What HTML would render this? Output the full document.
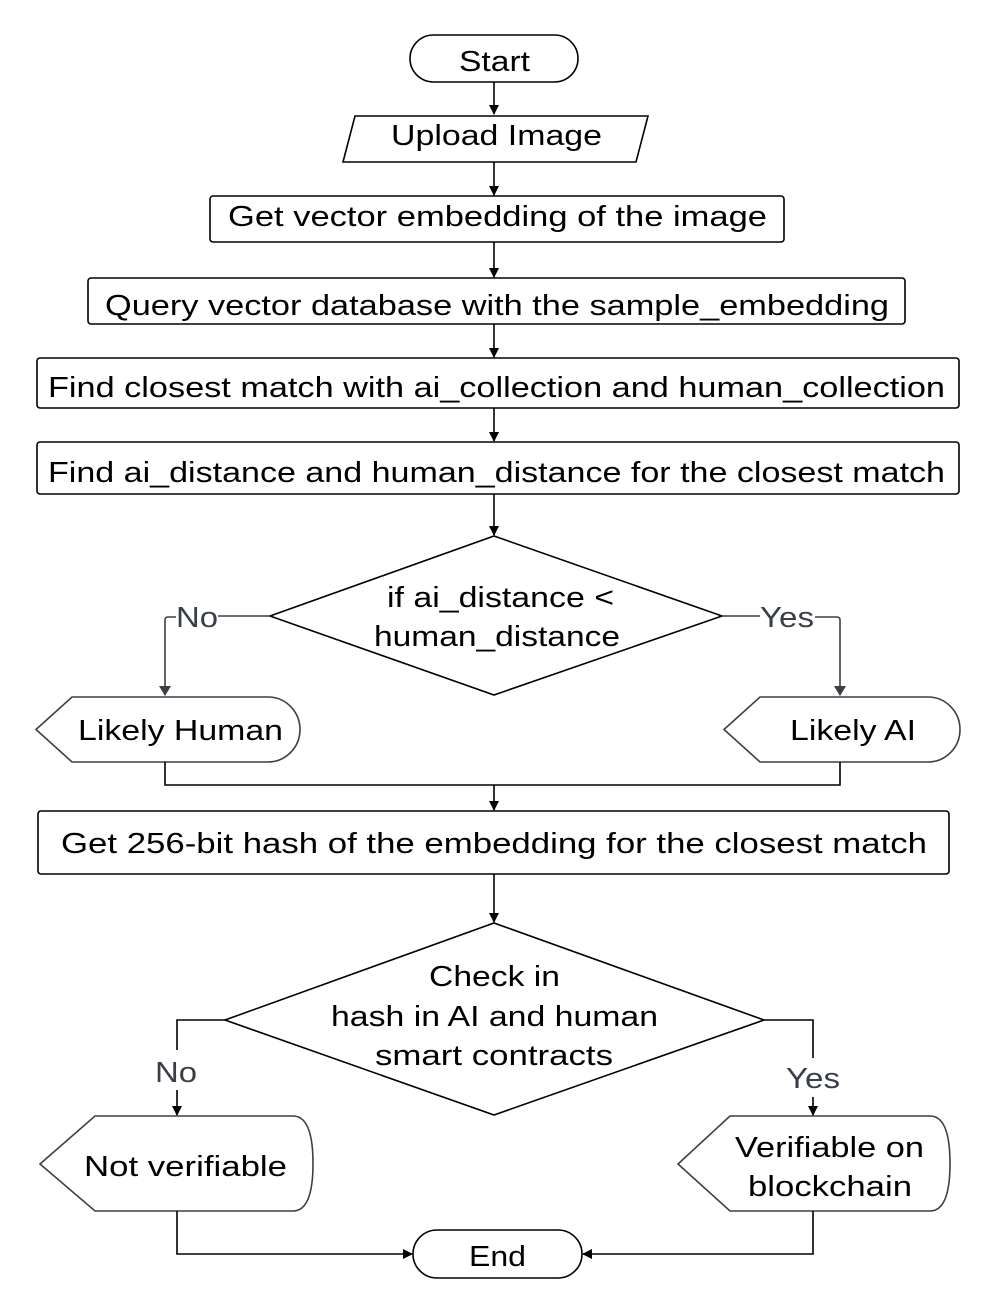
<!DOCTYPE html>
<html><head><meta charset="utf-8"><style>body{margin:0;background:#fff}svg{display:block}</style></head>
<body>
<svg width="996" height="1305" viewBox="0 0 996 1305" xmlns="http://www.w3.org/2000/svg" font-family="Liberation Sans, sans-serif" font-size="29" text-anchor="middle">
<defs><marker id="a" markerWidth="10" markerHeight="10" refX="9" refY="5" orient="auto" markerUnits="userSpaceOnUse"><path d="M0,0 L10,5 L0,10 z" fill="#000"/></marker>
<marker id="g" markerWidth="10" markerHeight="12" refX="9" refY="6" orient="auto" markerUnits="userSpaceOnUse"><path d="M0,0 L10,6 L0,12 z" fill="#3a3f47"/></marker></defs>
<g fill="none" stroke="#000" stroke-width="1.6">
<rect x="410" y="35" width="168" height="47" rx="23.5"/>
<polygon points="355,116 648,116 636,162 343,162"/>
<rect x="210" y="196" width="574" height="46" rx="3"/>
<rect x="88" y="278" width="817" height="46" rx="3"/>
<rect x="37" y="358" width="922" height="50" rx="3"/>
<rect x="37" y="442" width="922" height="52" rx="3"/>
<polygon points="494,536 722,616 494,695 270,616"/>
<rect x="38" y="811" width="911" height="63" rx="3"/>
<polygon points="494,923 764,1020 494,1115 225,1020"/>
<rect x="413" y="1230" width="169" height="48" rx="24"/>
</g>
<g fill="none" stroke="#3a3f47" stroke-width="1.6">
<path d="M72,697 H268 A32,32.5 0 0 1 268,762 H72 L36,729.5 Z"/>
<path d="M760,697 H928 A32,32.5 0 0 1 928,762 H760 L724,729.5 Z"/>
<path d="M95,1116 H293 Q313,1116 313,1163.5 Q313,1211 293,1211 H95 L40,1164 Z"/>
<path d="M730,1116 H930 Q950,1116 950,1163.5 Q950,1211 930,1211 H730 L678,1164 Z"/>
<path d="M270,616 H218 M176,617 H168 Q165,617 165,620 V695" marker-end="url(#g)"/>
<path d="M722,616 H760 M815,617 H837 Q840,617 840,620 V695" marker-end="url(#g)"/>
</g>
<g fill="none" stroke="#000" stroke-width="1.6">
<path d="M494,82 V114" marker-end="url(#a)"/>
<path d="M494,162 V195" marker-end="url(#a)"/>
<path d="M494,242 V277" marker-end="url(#a)"/>
<path d="M494,324 V357" marker-end="url(#a)"/>
<path d="M494,408 V441" marker-end="url(#a)"/>
<path d="M494,494 V535" marker-end="url(#a)"/>
<path d="M165,762 V785 H494 M840,762 V785 H494 M494,785 V810" marker-end="url(#a)"/>
<path d="M494,874 V922" marker-end="url(#a)"/>
<path d="M225,1020 H177 V1050 M177,1090 V1115" marker-end="url(#a)"/>
<path d="M764,1020 H813 V1058 M813,1097 V1115" marker-end="url(#a)"/>
<path d="M177,1211 V1254 H412" marker-end="url(#a)"/>
<path d="M813,1211 V1254 H583" marker-end="url(#a)"/>
</g>
<g fill="#000" lengthAdjust="spacingAndGlyphs">
<text x="494.5" y="71" textLength="71" lengthAdjust="spacingAndGlyphs">Start</text>
<text x="496.5" y="145" textLength="211" lengthAdjust="spacingAndGlyphs">Upload Image</text>
<text x="497.5" y="226" textLength="539" lengthAdjust="spacingAndGlyphs">Get vector embedding of the image</text>
<text x="497" y="315" textLength="784" lengthAdjust="spacingAndGlyphs">Query vector database with the sample_embedding</text>
<text x="496.5" y="397" textLength="897" lengthAdjust="spacingAndGlyphs">Find closest match with ai_collection and human_collection</text>
<text x="496.5" y="482" textLength="897" lengthAdjust="spacingAndGlyphs">Find ai_distance and human_distance for the closest match</text>
<text x="500.5" y="607" textLength="227" lengthAdjust="spacingAndGlyphs">if ai_distance &lt;</text>
<text x="497" y="646" textLength="246" lengthAdjust="spacingAndGlyphs">human_distance</text>
<text x="180.5" y="740" textLength="205" lengthAdjust="spacingAndGlyphs">Likely Human</text>
<text x="853" y="740" textLength="126" lengthAdjust="spacingAndGlyphs">Likely AI</text>
<text x="494" y="853" textLength="866" lengthAdjust="spacingAndGlyphs">Get 256-bit hash of the embedding for the closest match</text>
<text x="494.5" y="986" textLength="131" lengthAdjust="spacingAndGlyphs">Check in</text>
<text x="494.5" y="1026" textLength="327" lengthAdjust="spacingAndGlyphs">hash in AI and human</text>
<text x="494" y="1065" textLength="238" lengthAdjust="spacingAndGlyphs">smart contracts</text>
<text x="185.5" y="1176" textLength="203" lengthAdjust="spacingAndGlyphs">Not verifiable</text>
<text x="829.5" y="1157" textLength="189" lengthAdjust="spacingAndGlyphs">Verifiable on</text>
<text x="830" y="1196" textLength="164" lengthAdjust="spacingAndGlyphs">blockchain</text>
<text x="497.5" y="1266" textLength="57" lengthAdjust="spacingAndGlyphs">End</text>
</g>
<g fill="#3a3f47">
<text x="197" y="627" textLength="42" lengthAdjust="spacingAndGlyphs">No</text>
<text x="787" y="627" textLength="54" lengthAdjust="spacingAndGlyphs">Yes</text>
<text x="176" y="1082" textLength="42" lengthAdjust="spacingAndGlyphs">No</text>
<text x="813" y="1088" textLength="54" lengthAdjust="spacingAndGlyphs">Yes</text>
</g>
</svg>
</body></html>
